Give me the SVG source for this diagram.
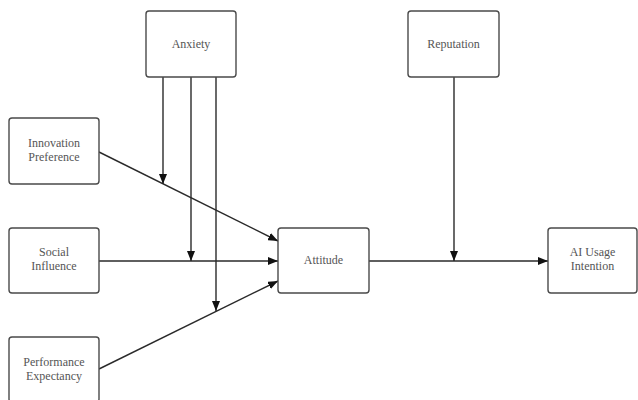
<svg xmlns="http://www.w3.org/2000/svg" width="638" height="400" viewBox="0 0 638 400">
<style>
.box{fill:#fff;stroke:#4a4a4a;stroke-width:1.4}
.lbl{font-family:"Liberation Serif","DejaVu Serif",serif;font-size:12px;fill:#555;text-anchor:middle}
.edge{stroke:#2a2a2a;stroke-width:1.4;fill:none}
</style>
<defs>
<marker id="arr" viewBox="0 0 10 8" refX="10" refY="4" markerWidth="10" markerHeight="8" markerUnits="userSpaceOnUse" orient="auto">
<path d="M0,0 L10,4 L0,8 Z" fill="#111"/>
</marker>
</defs>
<rect width="638" height="400" fill="#fff"/>
<g id="connectors">
<line class="edge" x1="99" y1="152" x2="278" y2="241" marker-end="url(#arr)"/>
<line class="edge" x1="99" y1="261" x2="278" y2="261" marker-end="url(#arr)"/>
<line class="edge" x1="99" y1="369" x2="278" y2="281" marker-end="url(#arr)"/>
<line class="edge" x1="163" y1="77" x2="163" y2="184" marker-end="url(#arr)"/>
<line class="edge" x1="191" y1="77" x2="191" y2="261" marker-end="url(#arr)"/>
<line class="edge" x1="216" y1="77" x2="216" y2="311" marker-end="url(#arr)"/>
<line class="edge" x1="369" y1="261" x2="548" y2="261" marker-end="url(#arr)"/>
<line class="edge" x1="454" y1="77" x2="454" y2="261" marker-end="url(#arr)"/>
</g>
<g id="anxiety">
<rect class="box" x="146" y="11" width="90" height="66" rx="3"/>
<text class="lbl" x="191" y="48">Anxiety</text>
</g>
<g id="reputation">
<rect class="box" x="408" y="11" width="91" height="66" rx="3"/>
<text class="lbl" x="453.5" y="48">Reputation</text>
</g>
<g id="innovation">
<rect class="box" x="9" y="118" width="90" height="66" rx="3"/>
<text class="lbl" x="54" y="147">Innovation</text>
<text class="lbl" x="54" y="161">Preference</text>
</g>
<g id="social">
<rect class="box" x="9" y="228" width="90" height="65" rx="3"/>
<text class="lbl" x="54" y="256">Social</text>
<text class="lbl" x="54" y="270">Influence</text>
</g>
<g id="performance">
<rect class="box" x="9" y="337" width="90" height="65" rx="3"/>
<text class="lbl" x="54" y="366">Performance</text>
<text class="lbl" x="54" y="380">Expectancy</text>
</g>
<g id="attitude">
<rect class="box" x="278" y="228" width="91" height="65" rx="3"/>
<text class="lbl" x="323.5" y="264">Attitude</text>
</g>
<g id="intention">
<rect class="box" x="548" y="228" width="89" height="65" rx="3"/>
<text class="lbl" x="592.5" y="256">AI Usage</text>
<text class="lbl" x="592.5" y="270">Intention</text>
</g>
</svg>
